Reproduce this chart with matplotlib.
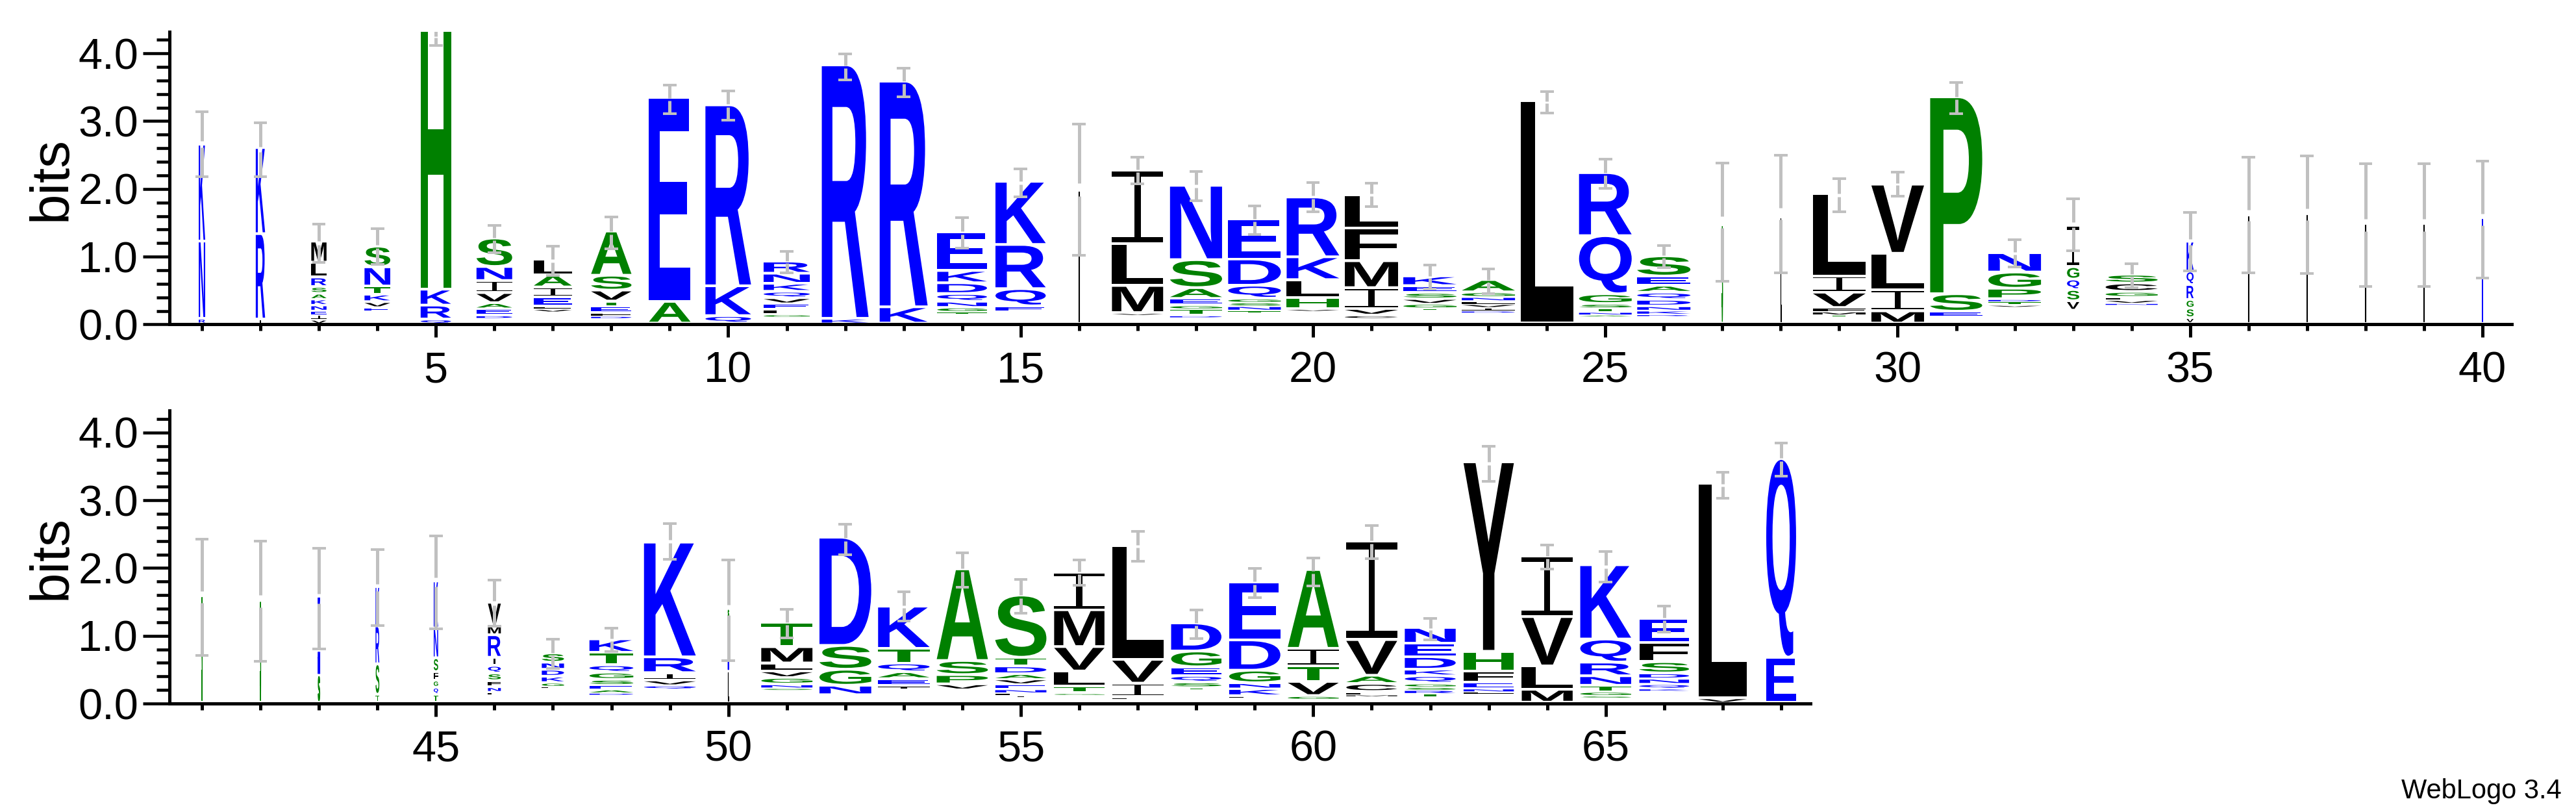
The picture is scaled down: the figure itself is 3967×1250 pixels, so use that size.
import matplotlib
matplotlib.use("Agg")
import matplotlib.pyplot as plt
import numpy as np
from matplotlib.textpath import TextPath
from matplotlib.font_manager import FontProperties
from matplotlib.patches import PathPatch
from matplotlib.path import Path

plt.rcParams['font.family'] = ['Liberation Sans', 'DejaVu Sans']

positions = list(range(1, 69))
letters = [
    "RNK", "IRK", "VIENKASRLM", " EVKTNS", "QRKH",
    " DEAVINS", " VFEIAL", " DFETVSA", "AE", "QKR",
    " GLEVQKNR", "KR", "KR", " TGNQDKE", " EQRK",
    "L", " VMLI", " DTGEASN", " TNSGQDE", " VHLKR",
    " CVIMFL", " TGVSEK", " DIVLNGA", "L", " ANTSGQR",
    " RKNDQAES", "S", "L", " TMFVIL", "MILV",
    " ESP", " VTDPGN", " VSQGI", " NVLGCS", "VSGRQK",
    "L", "L", "L", "L", "K",
    "S", "S", "SNK", "TSRK", "TQGFSNK",
    " LNFSQIRMV", " LGKDNS", " DAESGQTK", " QVIRK", "LKS",
    " SNGVLMT", " NGSD", " IEAQTK", " VPSA", " ILNEVADTS",
    " GTLVMI", " FIVL", " TSQEGD", " LKNGDE", " GVTIA",
    " MLCAVI", " TRSGQKDEN", " LNEFHY", "MLVI", " SGTNRQK",
    " KQNDSFE", "VL", "EQ",
]
bits = [
    [0.07, 1.14, 1.43], [0.06, 1.26, 1.27],
    [0.055, 0.073, 0.055, 0.084, 0.088, 0.084, 0.10, 0.14, 0.22, 0.31],
    [0.18, 0.055, 0.081, 0.11, 0.121, 0.283, 0.305], [0.06, 0.205, 0.235, 3.93],
    [0.08, 0.04, 0.095, 0.086, 0.149, 0.178, 0.207, 0.42],
    [0.175, 0.04, 0.038, 0.134, 0.146, 0.181, 0.229],
    [0.08, 0.032, 0.048, 0.089, 0.076, 0.162, 0.219, 0.652],
    [0.32, 3.01], [0.11, 0.44, 2.67],
    [0.10, 0.035, 0.07, 0.086, 0.083, 0.095, 0.118, 0.149, 0.178],
    [0.07, 3.74], [0.24, 3.33],
    [0.14, 0.032, 0.064, 0.086, 0.114, 0.159, 0.181, 0.572],
    [0.165, 0.089, 0.254, 0.652, 0.932],
    [1.96], [0.13, 0.025, 0.40, 0.62, 1.08],
    [0.095, 0.025, 0.095, 0.054, 0.095, 0.159, 0.413, 1.097],
    [0.17, 0.022, 0.064, 0.054, 0.057, 0.191, 0.388, 0.591],
    [0.19, 0.025, 0.165, 0.261, 0.337, 0.883],
    [0.08, 0.04, 0.095, 0.308, 0.397, 0.483, 0.487],
    [0.20, 0.025, 0.064, 0.073, 0.089, 0.102, 0.143],
    [0.165, 0.025, 0.048, 0.048, 0.048, 0.057, 0.070, 0.181],
    [3.28], [0.11, 0.02, 0.041, 0.054, 0.064, 0.143, 0.858, 0.93],
    [0.115, 0.022, 0.054, 0.064, 0.095, 0.105, 0.102, 0.137, 0.299],
    [1.45], [1.57], [0.108, 0.02, 0.048, 0.054, 0.226, 0.239, 1.215],
    [0.18, 0.31, 0.54, 1.02], [0.105, 0.07, 0.258, 2.906],
    [0.25, 0.025, 0.055, 0.03, 0.154, 0.239, 0.286],
    [0.19, 0.14, 0.165, 0.154, 0.183, 0.609],
    [0.28, 0.022, 0.044, 0.044, 0.077, 0.125, 0.128],
    [0.08, 0.14, 0.128, 0.22, 0.20, 0.44],
    [1.60], [1.61], [1.47], [1.47], [1.55],
    [1.57], [1.50], [0.40, 0.36, 0.80], [0.116, 0.45, 0.56, 0.58],
    [0.116, 0.104, 0.104, 0.127, 0.204, 0.44, 0.694],
    [0.12, 0.038, 0.07, 0.09, 0.112, 0.112, 0.121, 0.332, 0.137, 0.342],
    [0.217, 0.022, 0.054, 0.09, 0.102, 0.105, 0.137],
    [0.12, 0.025, 0.048, 0.064, 0.08, 0.105, 0.109, 0.185, 0.198],
    [0.2, 0.054, 0.073, 0.109, 0.233, 1.693], [0.46, 0.78, 0.14],
    [0.19, 0.025, 0.054, 0.096, 0.096, 0.118, 0.24, 0.361],
    [0.11, 0.14, 0.236, 0.352, 1.597],
    [0.2, 0.045, 0.102, 0.102, 0.128, 0.217, 0.623],
    [0.19, 0.08, 0.137, 0.208, 1.352],
    [0.085, 0.02, 0.038, 0.054, 0.073, 0.073, 0.077, 0.115, 0.128, 0.918],
    [0.12, 0.02, 0.096, 0.224, 0.361, 0.543, 0.549],
    [0.06, 0.02, 0.201, 0.351, 1.68],
    [0.2, 0.025, 0.073, 0.096, 0.128, 0.233, 0.415],
    [0.08, 0.016, 0.105, 0.086, 0.185, 0.447, 0.852],
    [0.05, 0.048, 0.208, 0.233, 0.256, 1.163],
    [0.1, 0.02, 0.038, 0.118, 0.121, 0.527, 1.454],
    [0.09, 0.045, 0.051, 0.045, 0.051, 0.109, 0.096, 0.185, 0.198, 0.233],
    [0.14, 0.02, 0.048, 0.086, 0.169, 0.288, 2.796],
    [0.19, 0.345, 0.728, 0.895],
    [0.077, 0.025, 0.058, 0.089, 0.141, 0.201, 0.341, 1.096],
    [0.176, 0.032, 0.064, 0.08, 0.08, 0.166, 0.281, 0.361],
    [0.064, 3.17], [0.665, 2.93],
]
# stack width as a fraction of one column (gappy columns are thin)
widths = [
    0.11, 0.16, 0.26, 0.44, 0.52, 0.61, 0.65, 0.69, 0.71, 0.78,
    0.79, 0.80, 0.82, 0.85, 0.86, 0.012, 0.875, 0.89, 0.90, 0.90,
    0.91, 0.91, 0.91, 0.90, 0.90, 0.91, 0.01, 0.01, 0.90, 0.90,
    0.89, 0.90, 0.21, 0.89, 0.12, 0.01, 0.01, 0.01, 0.01, 0.01,
    0.01, 0.01, 0.03, 0.065, 0.075, 0.22, 0.38, 0.75, 0.885, 0.01,
    0.875, 0.885, 0.88, 0.875, 0.875, 0.86, 0.875, 0.86, 0.875, 0.87,
    0.87, 0.87, 0.86, 0.87, 0.87, 0.85, 0.83, 0.51,
]
err_mid = [
    2.66, 2.58, 1.20, 1.15, 4.24, 1.26, 0.94, 1.35, 3.32, 3.23,
    0.92, 3.80, 3.57, 1.35, 2.09, 1.99, 2.27, 2.04, 1.54, 1.88,
    1.91, 0.70, 0.64, 3.28, 2.22, 1.00, 1.51, 1.63, 1.91, 2.07,
    3.34, 1.05, 1.47, 0.72, 1.22, 1.61, 1.62, 1.47, 1.47, 1.55,
    1.57, 1.51, 1.55, 1.71, 1.79, 1.48, 0.73, 0.94, 2.39, 1.38,
    1.18, 2.42, 1.43, 1.97, 1.58, 1.93, 2.32, 1.17, 1.78, 1.94,
    2.38, 1.10, 3.54, 2.16, 2.02, 1.25, 3.22, 3.60,
]
err_half = [
    0.48, 0.40, 0.285, 0.266, 0.12, 0.20, 0.213, 0.238, 0.213, 0.215,
    0.159, 0.194, 0.211, 0.223, 0.208, 0.97, 0.199, 0.219, 0.213, 0.218,
    0.175, 0.175, 0.183, 0.159, 0.215, 0.164, 0.874, 0.866, 0.243, 0.181,
    0.226, 0.202, 0.385, 0.18, 0.431, 0.853, 0.87, 0.906, 0.906, 0.862,
    0.86, 0.883, 0.741, 0.559, 0.685, 0.339, 0.216, 0.176, 0.264, 0.743,
    0.212, 0.228, 0.216, 0.251, 0.251, 0.187, 0.216, 0.211, 0.216, 0.203,
    0.246, 0.16, 0.259, 0.179, 0.228, 0.192, 0.189, 0.244,
]

# hydrophobicity colour scheme
colours = {}
for c in "RKDENQ":
    colours[c] = "#0000FF"
for c in "SGHTAP":
    colours[c] = "#008000"
for c in "YVMCLFIW":
    colours[c] = "#000000"
grey = "#C0C0C0"

bold = FontProperties(family="Liberation Sans", weight="bold")
_glyphs = {}


def glyph(c):
    # unit-square outline of a letter
    if c not in _glyphs:
        if c == "I":
            # weblogo draws a slim I-beam
            t, s = 0.075, 0.12
            v = [(0, 0), (1, 0), (1, t), (0.5 + s / 2, t), (0.5 + s / 2, 1 - t),
                 (1, 1 - t), (1, 1), (0, 1), (0, 1 - t), (0.5 - s / 2, 1 - t),
                 (0.5 - s / 2, t), (0, t), (0, 0)]
            _glyphs[c] = Path(v, closed=True)
        else:
            p = TextPath((0, 0), c, size=100, prop=bold)
            e = p.get_extents()
            v = (p.vertices - [e.x0, e.y0]) / [e.width, e.height]
            _glyphs[c] = Path(v, p.codes)
    return _glyphs[c]


def draw_stack(ax, x, seq, hs, w):
    y = 0.0
    for c, h in zip(seq, hs):
        if c != " ":
            m = min(0.04, 0.4 * h)
            g = glyph(c)
            v = g.vertices * [w, h - m] + [x - w / 2, y + m]
            thin = w < 0.05
            ax.add_patch(PathPatch(Path(v, g.codes), fc=colours[c],
                                   ec=colours[c] if thin else "none",
                                   lw=0.8 if thin else 0, zorder=2))
        y += h


def draw_err(ax, x, mid, half):
    gap = 0.1 * half
    ax.vlines([x, x], [mid + gap, mid - half], [mid + half, mid - gap],
              color=grey, lw=3.6, zorder=3)
    ax.hlines([mid + half, mid - half], x - 0.115, x + 0.115,
              color=grey, lw=2.9, zorder=3)


W, H = 3967, 1250
fig = plt.figure(figsize=(W / 100, H / 100), dpi=100)
ax1 = fig.add_axes([266 / W, (H - 499.4) / H, 3602 / W, 450.6 / H])
ax2 = fig.add_axes([266 / W, (H - 1083) / H, 2522 / W, 450.6 / H])

for ax, lo, hi, majors, yc in [(ax1, 1, 40, range(5, 41, 5), 275),
                               (ax2, 41, 68, range(45, 66, 5), 858)]:
    for i in range(lo - 1, hi):
        draw_stack(ax, positions[i], letters[i], bits[i], widths[i])
        draw_err(ax, positions[i], err_mid[i], err_half[i])
    ax.set_xlim(lo - 0.5, hi + 0.5)
    ax.set_ylim(0, 4.32)
    for s in ["top", "right"]:
        ax.spines[s].set_visible(False)
    ax.spines["left"].set_position(("outward", 3.6))
    ax.spines["left"].set_linewidth(3.6)
    ax.spines["bottom"].set_linewidth(3.6)
    ax.set_xticks(list(majors))
    ax.set_xticks(range(lo, hi + 1), minor=True)
    ax.set_yticks([0, 1, 2, 3, 4])
    ax.set_yticklabels(["0.0", "1.0", "2.0", "3.0", "4.0"])
    ax.set_yticks(np.arange(0, 4.21, 0.2), minor=True)
    ax.tick_params(axis="y", which="major", length=29.5, width=3.3, pad=5, labelsize=48)
    ax.tick_params(axis="y", which="minor", length=14.5, width=3.3)
    ax.tick_params(axis="x", which="major", length=14.5, width=3.6, pad=15, labelsize=48)
    ax.tick_params(axis="x", which="minor", length=7.5, width=3.6)
    fig.text(102 / W, 1 - yc / H, "bits", rotation=90, rotation_mode="anchor",
             ha="center", va="baseline", fontsize=60)

fig.text(3945 / W, 1 - 1229 / H, "WebLogo 3.4", ha="right", va="baseline", fontsize=30,
         family=["Liberation Sans Narrow", "Liberation Sans"])

fig.savefig("out.png", dpi=100)
